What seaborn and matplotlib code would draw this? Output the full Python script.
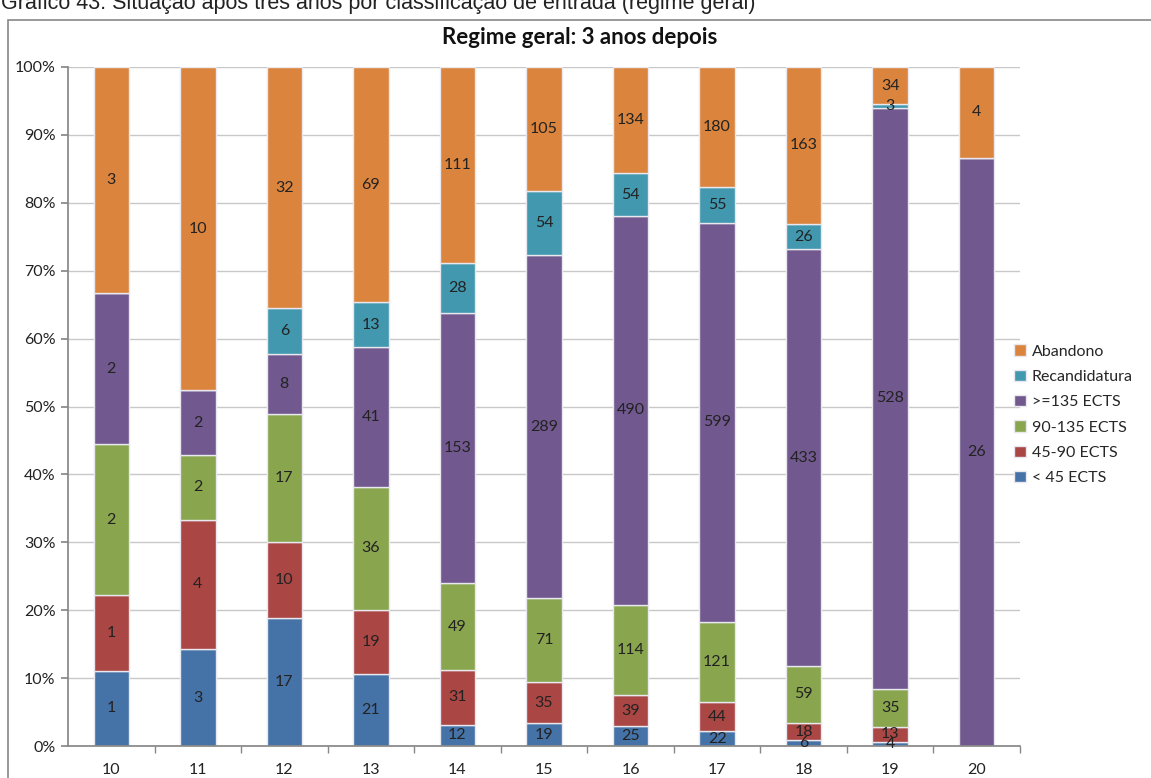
import matplotlib
matplotlib.use("Agg")
import matplotlib.pyplot as plt
import seaborn as sns
import numpy as np
import pandas as pd
from matplotlib.patches import Rectangle
from matplotlib.ticker import PercentFormatter, FixedLocator

categories = ["10", "11", "12", "13", "14", "15", "16", "17", "18", "19", "20"]
lt45 = [1, 3, 17, 21, 12, 19, 25, 22, 6, 4, 0]
e45_90 = [1, 4, 10, 19, 31, 35, 39, 44, 18, 13, 0]
e90_135 = [2, 2, 17, 36, 49, 71, 114, 121, 59, 35, 0]
ge135 = [2, 2, 8, 41, 153, 289, 490, 599, 433, 528, 26]
recand = [0, 0, 6, 13, 28, 54, 54, 55, 26, 3, 0]
abandono = [3, 10, 32, 69, 111, 105, 134, 180, 163, 34, 4]

series_names = ["< 45 ECTS", "45-90 ECTS", "90-135 ECTS", ">=135 ECTS", "Recandidatura", "Abandono"]
series_vals = [lt45, e45_90, e90_135, ge135, recand, abandono]
colors = ["#4572A7", "#AA4643", "#89A54E", "#71588F", "#4198AF", "#DB843D"]

sns.set_theme(style="white")
plt.rcParams["font.family"] = ["Lato", "DejaVu Sans"]

fig = plt.figure(figsize=(11.51, 7.78), dpi=100)
ax = fig.add_axes([68/1151, 1-746/778, (1020-68)/1151, (746-67)/778])

totals = np.sum(np.array(series_vals), axis=0)
bottom = np.zeros(len(categories))
for name, vals, col in zip(series_names, series_vals, colors):
    vals = np.array(vals, dtype=float)
    pct = vals / totals * 100
    df = pd.DataFrame({"cat": categories, "pct": pct})
    sns.barplot(data=df, x="cat", y="pct", order=categories, color=col,
                width=0.41, bottom=bottom, edgecolor="#e8e8ee", linewidth=1.0,
                saturation=1, ax=ax, label=name)
    for i, (v, p) in enumerate(zip(vals, pct)):
        if v > 0:
            ax.text(i, bottom[i] + p/2, f"{int(v)}", ha="center", va="center",
                    fontsize=11.5, color="#222222")
    bottom = bottom + pct

h, l = ax.get_legend_handles_labels()
if ax.get_legend() is not None:
    ax.get_legend().remove()

ax.set_xlim(-0.5, len(categories) - 0.5)
ax.set_ylim(0, 100)
ax.yaxis.set_major_locator(FixedLocator(np.arange(0, 101, 10)))
ax.yaxis.set_major_formatter(PercentFormatter(decimals=0))
ax.grid(axis="y", color="#c8c8c8", linewidth=1)
ax.set_axisbelow(True)
ax.set_xlabel("")
ax.set_ylabel("")
for s in ["top", "right"]:
    ax.spines[s].set_visible(False)
ax.spines["left"].set_color("#888888")
ax.spines["bottom"].set_color("#888888")
ax.tick_params(axis="y", labelsize=11.5, colors="#222222", length=5, color="#888888", left=True, pad=4)
ax.tick_params(axis="x", labelsize=11.5, colors="#222222", length=0, pad=12)
ax.set_xticks(np.arange(len(categories)) + 0.5, minor=True)
ax.tick_params(axis="x", which="minor", length=5, color="#888888", bottom=True)
ax.set_xticks(np.arange(len(categories)))
ax.set_xticklabels(categories)

fig.legend(h[::-1], l[::-1], loc="upper left", bbox_to_anchor=(1008/1151, 1-338/778),
           frameon=False, fontsize=11.5, handlelength=0.7, handleheight=0.7,
           handletextpad=0.4, labelspacing=0.7, borderaxespad=0)

fig.text(580/1151, 1-37/778, "Regime geral: 3 anos depois", ha="center", va="center",
         fontsize=16, fontweight="bold", color="#111111")

fig.text(1/1151, 1-9/778, "Gráfico 43: Situação após três anos por classificação de entrada (regime geral)",
         ha="left", va="baseline", fontsize=15.5, family=["Liberation Sans"], color="#222222")

fig.patches.append(Rectangle((8/1151, -0.05), 1.2, 1-20/778 + 0.05, transform=fig.transFigure,
                             fill=False, edgecolor="#888888", linewidth=1.2))

fig.savefig("out.png", dpi=100)
